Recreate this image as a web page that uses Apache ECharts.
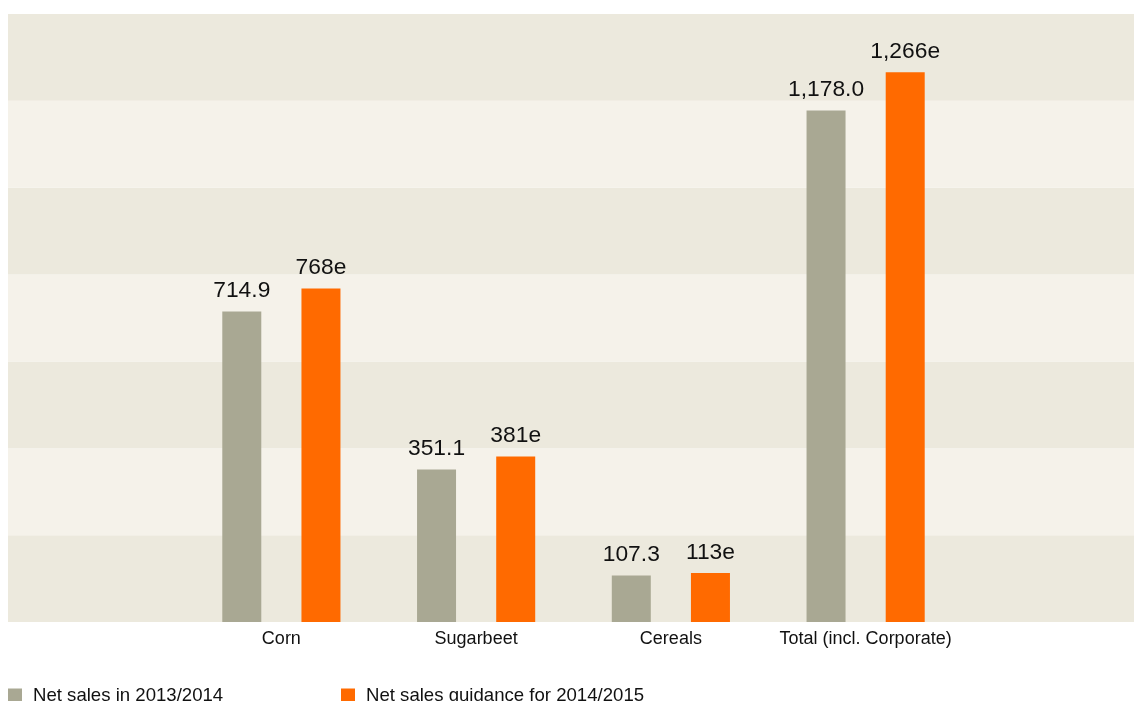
<!DOCTYPE html>
<html><head><meta charset="utf-8">
<script src="https://cdn.jsdelivr.net/npm/echarts@6/dist/echarts.min.js"></script>
<style>html,body{margin:0;padding:0;background:#fff}#c{width:1134px;height:701px}</style>
</head><body><div id="c"></div>
<script>
const categories = ['Corn', 'Sugarbeet', 'Cereals', 'Total (incl. Corporate)'];
const sales2013 = [714.9, 351.1, 107.3, 1178.0];
const guidance2014 = [768, 381, 113, 1266];
const seriesNames = ['Net sales in 2013/2014', 'Net sales guidance for 2014/2015'];
const yMax = 1400, yInterval = 200;

const FONT = '"Liberation Sans", Arial, Helvetica, sans-serif';
const fmt1 = v => v.toLocaleString('en-US', {minimumFractionDigits: 1, maximumFractionDigits: 1});
const fmt0 = v => v.toLocaleString('en-US', {maximumFractionDigits: 0}) + 'e';

const chart = echarts.init(document.getElementById('c'));
chart.setOption({
  animation: false,
  backgroundColor: '#ffffff',
  textStyle: {fontFamily: FONT},
  grid: [
    {left: 8, right: 0, top: 14, height: 608},
    {left: 184, right: 171, top: 14, height: 608}
  ],
  xAxis: [
    {gridIndex: 0, type: 'category', data: [''], show: false},
    {gridIndex: 1, type: 'category', data: categories,
     axisLine: {show: false}, axisTick: {show: false},
     axisLabel: {interval: 0, color: '#111', fontSize: 18, fontFamily: FONT, margin: 8}}
  ],
  yAxis: [
    {gridIndex: 0, type: 'value', min: 0, max: yMax, interval: yInterval,
     axisLine: {show: false}, axisTick: {show: false}, axisLabel: {show: false},
     splitLine: {show: false},
     splitArea: {show: true, areaStyle: {color: ['#ece9dd', '#f5f2ea']}}},
    {gridIndex: 1, type: 'value', min: 0, max: yMax, interval: yInterval, show: false,
     splitLine: {show: false}}
  ],
  legend: [
    {data: [seriesNames[0]], left: 8, top: 686, itemWidth: 14, itemHeight: 14,
     icon: 'rect', padding: 0,
     textStyle: {fontSize: 18.6, color: '#111', fontFamily: FONT, padding: [0, 0, 0, 6]}},
    {data: [seriesNames[1]], left: 341, top: 686, itemWidth: 14, itemHeight: 14,
     icon: 'rect', padding: 0,
     textStyle: {fontSize: 18.6, color: '#111', fontFamily: FONT, padding: [0, 0, 0, 6]}}
  ],
  series: [
    {name: seriesNames[0], type: 'bar', xAxisIndex: 1, yAxisIndex: 1,
     data: sales2013, barWidth: 39, barGap: '103%',
     itemStyle: {color: '#a9a893'},
     label: {show: true, position: 'top', distance: 9, fontSize: 22.8, color: '#111',
             fontFamily: FONT, formatter: p => fmt1(p.value)}},
    {name: seriesNames[1], type: 'bar', xAxisIndex: 1, yAxisIndex: 1,
     data: guidance2014, barWidth: 39, barGap: '103%',
     itemStyle: {color: '#ff6a00'},
     label: {show: true, position: 'top', distance: 9, fontSize: 22.8, color: '#111',
             fontFamily: FONT, formatter: p => fmt0(p.value)}}
  ]
});
</script></body></html>
